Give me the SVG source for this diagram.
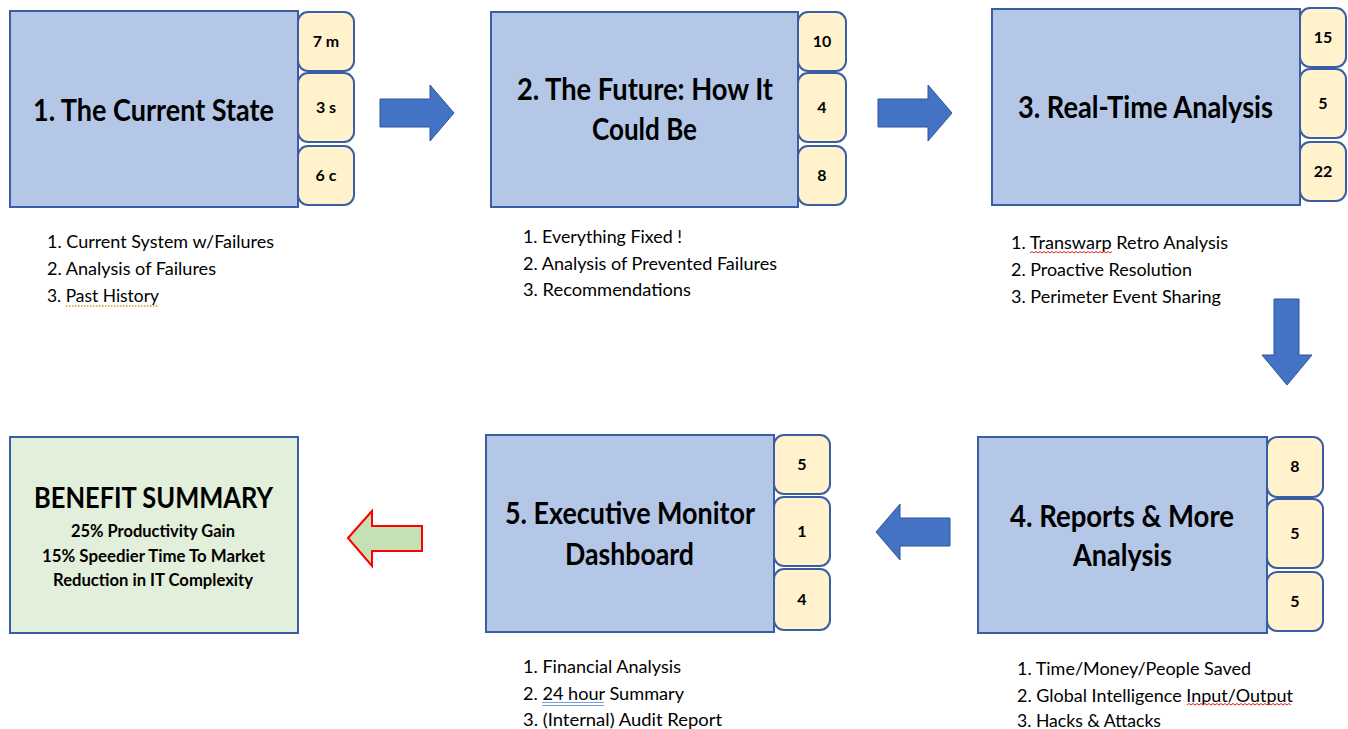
<svg xmlns="http://www.w3.org/2000/svg" width="1348" height="729" viewBox="0 0 1348 729">
<style>
.box{fill:#b4c7e7;stroke:#3a5da3;stroke-width:2}
.tab{fill:#fff2cc;stroke:#3a5da3;stroke-width:2}
.ben{fill:#e2efda;stroke:#3a5da3;stroke-width:2}
.arr{fill:#4472c4;stroke:#2f5597;stroke-width:1}
.garr{fill:#c5e0b4;stroke:#ff0000;stroke-width:2}
text{font-family:Lato,"Liberation Sans",sans-serif;fill:#000}
.t{font-size:30px;font-weight:bold}
.n{font-size:16px;font-weight:bold;text-anchor:middle}
.l{font-size:18px}
.bh{font-size:29px;font-weight:bold}
.bl{font-size:16.5px;font-weight:bold}
.wavy{fill:none;stroke:#e02020;stroke-width:1}
</style>
<rect width="1348" height="729" fill="#ffffff"/>

<g id="node1">
<rect class="box" x="10" y="11" width="288" height="196"/>
<rect class="tab" x="298" y="12" width="56" height="59" rx="10"/>
<rect class="tab" x="298" y="73" width="56" height="69" rx="10"/>
<rect class="tab" x="298" y="146" width="56" height="59" rx="10"/>
<text class="n" x="326" y="47">7 m</text>
<text class="n" x="326" y="113">3 s</text>
<text class="n" x="326" y="181">6 c</text>
<text class="t" x="33" y="121" textLength="241" lengthAdjust="spacingAndGlyphs">1. The Current State</text>
<text class="l" x="47" y="248" textLength="227" lengthAdjust="spacingAndGlyphs">1. Current System w/Failures</text>
<text class="l" x="47" y="275" textLength="169" lengthAdjust="spacingAndGlyphs">2. Analysis of Failures</text>
<text class="l" x="47" y="302" textLength="112" lengthAdjust="spacingAndGlyphs">3. Past History</text>
<line x1="66" y1="306" x2="158" y2="306" stroke="#c9a02a" stroke-width="1.5" stroke-dasharray="1.5,1.5"/>
</g>

<g id="node2">
<rect class="box" x="491" y="12" width="307" height="195"/>
<rect class="tab" x="798" y="12" width="48" height="59" rx="10"/>
<rect class="tab" x="798" y="73" width="48" height="69" rx="10"/>
<rect class="tab" x="798" y="146" width="48" height="59" rx="10"/>
<text class="n" x="822" y="47">10</text>
<text class="n" x="822" y="113">4</text>
<text class="n" x="822" y="181">8</text>
<text class="t" x="517" y="100" textLength="256" lengthAdjust="spacingAndGlyphs">2. The Future: How It</text>
<text class="t" x="592" y="140" textLength="105" lengthAdjust="spacingAndGlyphs">Could Be</text>
<text class="l" x="523" y="243" textLength="159" lengthAdjust="spacingAndGlyphs">1. Everything Fixed !</text>
<text class="l" x="523" y="270" textLength="254" lengthAdjust="spacingAndGlyphs">2. Analysis of Prevented Failures</text>
<text class="l" x="523" y="296" textLength="168" lengthAdjust="spacingAndGlyphs">3. Recommendations</text>
</g>

<g id="node3">
<rect class="box" x="992" y="9" width="308" height="196"/>
<rect class="tab" x="1300" y="8" width="46" height="59" rx="10"/>
<rect class="tab" x="1300" y="69" width="46" height="69" rx="10"/>
<rect class="tab" x="1300" y="142" width="46" height="59" rx="10"/>
<text class="n" x="1323" y="43">15</text>
<text class="n" x="1323" y="109">5</text>
<text class="n" x="1323" y="177">22</text>
<text class="t" x="1018" y="118" textLength="255" lengthAdjust="spacingAndGlyphs">3. Real-Time Analysis</text>
<text class="l" x="1011" y="249" textLength="217" lengthAdjust="spacingAndGlyphs">1. Transwarp Retro Analysis</text>
<text class="l" x="1011" y="276" textLength="181" lengthAdjust="spacingAndGlyphs">2. Proactive Resolution</text>
<text class="l" x="1011" y="303" textLength="210" lengthAdjust="spacingAndGlyphs">3. Perimeter Event Sharing</text>
<path class="wavy" d="M1030,253 l2,-1.5 2,1.5 2,-1.5 2,1.5 2,-1.5 2,1.5 2,-1.5 2,1.5 2,-1.5 2,1.5 2,-1.5 2,1.5 2,-1.5 2,1.5 2,-1.5 2,1.5 2,-1.5 2,1.5 2,-1.5 2,1.5 2,-1.5 2,1.5 2,-1.5 2,1.5 2,-1.5 2,1.5 2,-1.5 2,1.5 2,-1.5 2,1.5 2,-1.5 2,1.5 2,-1.5 2,1.5 2,-1.5 2,1.5 2,-1.5 2,1.5 2,-1.5 2,1.5 2,-1.5"/>
</g>

<g id="node4">
<rect class="box" x="978" y="437" width="289" height="196"/>
<rect class="tab" x="1267" y="437" width="56" height="60" rx="10"/>
<rect class="tab" x="1267" y="499" width="56" height="69" rx="10"/>
<rect class="tab" x="1267" y="572" width="56" height="59" rx="10"/>
<text class="n" x="1295" y="472">8</text>
<text class="n" x="1295" y="539">5</text>
<text class="n" x="1295" y="607">5</text>
<text class="t" x="1010" y="527" textLength="224" lengthAdjust="spacingAndGlyphs">4. Reports &amp; More</text>
<text class="t" x="1073" y="566" textLength="99" lengthAdjust="spacingAndGlyphs">Analysis</text>
<text class="l" x="1017" y="675" textLength="234" lengthAdjust="spacingAndGlyphs">1. Time/Money/People Saved</text>
<text class="l" x="1017" y="702" textLength="276" lengthAdjust="spacingAndGlyphs">2. Global Intelligence Input/Output</text>
<text class="l" x="1017" y="727" textLength="144" lengthAdjust="spacingAndGlyphs">3. Hacks &amp; Attacks</text>
<path class="wavy" d="M1187,705 l2,-1.5 2,1.5 2,-1.5 2,1.5 2,-1.5 2,1.5 2,-1.5 2,1.5 2,-1.5 2,1.5 2,-1.5 2,1.5 2,-1.5 2,1.5 2,-1.5 2,1.5 2,-1.5 2,1.5 2,-1.5 2,1.5 2,-1.5 2,1.5 2,-1.5 2,1.5 2,-1.5 2,1.5 2,-1.5 2,1.5 2,-1.5 2,1.5 2,-1.5 2,1.5 2,-1.5 2,1.5 2,-1.5 2,1.5 2,-1.5 2,1.5 2,-1.5 2,1.5 2,-1.5 2,1.5 2,-1.5 2,1.5 2,-1.5 2,1.5 2,-1.5 2,1.5 2,-1.5 2,1.5 2,-1.5 2,1.5"/>
</g>

<g id="node5">
<rect class="box" x="486" y="435" width="288" height="197"/>
<rect class="tab" x="774" y="435" width="56" height="59" rx="10"/>
<rect class="tab" x="774" y="497" width="56" height="69" rx="10"/>
<rect class="tab" x="774" y="569" width="56" height="61" rx="10"/>
<text class="n" x="802" y="470">5</text>
<text class="n" x="802" y="537">1</text>
<text class="n" x="802" y="605">4</text>
<text class="t" x="505" y="524" textLength="250" lengthAdjust="spacingAndGlyphs">5. Executive Monitor</text>
<text class="t" x="565" y="565" textLength="129" lengthAdjust="spacingAndGlyphs">Dashboard</text>
<text class="l" x="523" y="673" textLength="158" lengthAdjust="spacingAndGlyphs">1. Financial Analysis</text>
<text class="l" x="523" y="700" textLength="161" lengthAdjust="spacingAndGlyphs">2. 24 hour Summary</text>
<text class="l" x="523" y="726" textLength="199" lengthAdjust="spacingAndGlyphs">3. (Internal) Audit Report</text>
<line x1="542" y1="702.5" x2="604" y2="702.5" stroke="#7a9fe0" stroke-width="1"/>
<line x1="542" y1="705.5" x2="604" y2="705.5" stroke="#7a9fe0" stroke-width="1"/>
</g>

<g id="benefit">
<rect class="ben" x="10" y="437" width="288" height="196"/>
<text class="bh" x="34" y="508" textLength="239" lengthAdjust="spacingAndGlyphs">BENEFIT SUMMARY</text>
<text class="bl" x="71" y="537" textLength="164" lengthAdjust="spacingAndGlyphs">25% Productivity Gain</text>
<text class="bl" x="42" y="562" textLength="223" lengthAdjust="spacingAndGlyphs">15% Speedier Time To Market</text>
<text class="bl" x="53" y="586" textLength="200" lengthAdjust="spacingAndGlyphs">Reduction in IT Complexity</text>
</g>

<g id="connectors">
<path class="arr" d="M380,99 H430 V85 L454,113 L430,141 V127 H380 Z"/>
<path class="arr" d="M878,99 H928 V85 L952,113 L928,141 V127 H878 Z"/>
<path class="arr" d="M1274,299 H1299 V355 H1312 L1287,385 L1262,355 H1274 Z"/>
<path class="arr" d="M876,532 L900,504 V518 H950 V546 H900 V560 Z"/>
<path class="garr" d="M348,538 L372,511 V526 H422 V551 H372 V566 Z"/>
</g>
</svg>
